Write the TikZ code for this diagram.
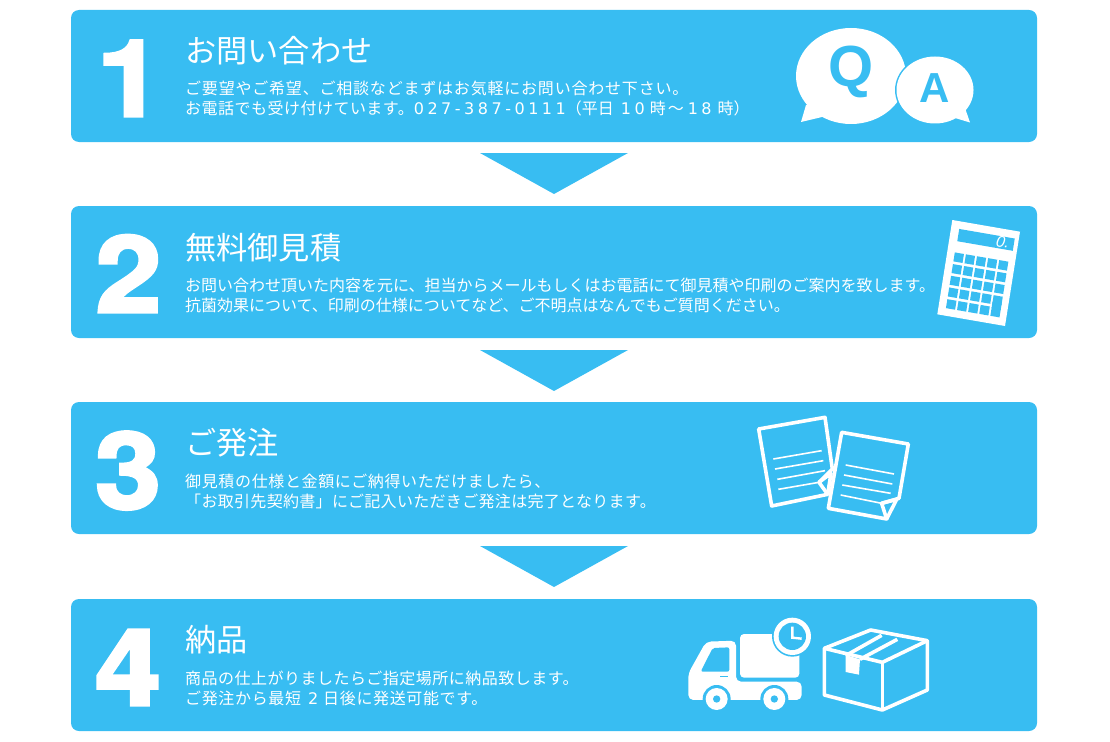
\documentclass[tikz,border=0pt]{standalone}
\usepackage{fontspec}
\setmainfont{Noto Sans CJK JP}
\newfontfamily\numfont{TeX Gyre Heros}[UprightFont=* Bold,FakeBold=3,FakeStretch=1.12]
\newfontfamily\latfont{Liberation Sans}[UprightFont=* Bold]
\newfontfamily\zerofont{Liberation Sans}[UprightFont=* Italic]
\newfontfamily\digfont{DejaVu Sans}
\definecolor{sky}{HTML}{38BDF2}
\tikzset{
  panel/.style={fill=sky,rounded corners=8pt},
  drop/.style={fill=sky},
  numeral/.style={text=white,anchor=base,inner sep=0pt,font=\numfont\fontsize{106}{106}\selectfont},
  headline/.style={text=white,anchor=base west,inner sep=0pt,font=\fontsize{31.2}{32}\selectfont},
  bodytext/.style={text=white,anchor=base west,inner sep=0pt,font=\fontsize{16}{20}\selectfont},
  icon/.style={fill=white},
  iconline/.style={draw=white,line width=3.6pt,line join=round},
  thin/.style={draw=white,line width=1.6pt},
  cutout/.style={fill=sky}
}
\newcommand{\dg}[1]{{\digfont\addfontfeature{LetterSpace=22}#1}}
\newcommand{\ls}[2]{{\addfontfeature{LetterSpace=#1}#2}}
\begin{document}
\begin{tikzpicture}[x=1pt,y=-1pt]
\useasboundingbox (0,0) rectangle (1110,741);
% panels
\fill[panel] (71,10) rectangle (1037,142);
\fill[panel] (71,206) rectangle (1037,338);
\fill[panel] (71,402) rectangle (1037,534);
\fill[panel] (71,599) rectangle (1037,731);
% arrows
\fill[drop] (480,153) -- (628,153) -- (554,194) -- cycle;
\fill[drop] (480,350) -- (628,350) -- (554,391) -- cycle;
\fill[drop] (480,546) -- (628,546) -- (554,587) -- cycle;
% numerals
\node[numeral] (n1) at (130,116) {1};
\node[numeral] (n2) at (128.5,312) {2};
\node[numeral] (n3) at (128,508.5) {3};
\node[numeral] (n4) at (128,705) {4};
% titles
\node[headline] (t1) at (185,63) {お問い合わせ};
\node[headline] (t2) at (185,259) {無料御見積};
\node[headline] (t3) at (185,454) {ご発注};
\node[headline] (t4) at (185,651) {納品};
% body
\node[bodytext] (b1a) at (185,94.5) {\ls{5}{ご要望やご希望、ご相談などまずはお気軽にお問い合わせ下さい。}};
\node[bodytext] (b1b) at (185,114.5) {\ls{3}{お電話でも受け付けています。}\dg{027-387-0111}（平日\hspace{7pt}\dg{10}\hspace{5pt}時\hspace{2pt}〜\hspace{4pt}\dg{18}\hspace{6pt}時）};
\node[bodytext] (b2a) at (185,291) {お問い合わせ頂いた内容を元に、担当からメールもしくはお電話にて御見積や印刷のご案内を致します。};
\node[bodytext] (b2b) at (185,311) {抗菌効果について、印刷の仕様についてなど、ご不明点はなんでもご質問ください。};
\node[bodytext] (b3a) at (185,487) {\ls{4}{御見積の仕様と金額にご納得いただけましたら、}};
\node[bodytext] (b3b) at (185,507) {\ls{2}{「お取引先契約書」にご記入いただきご発注は完了となります。}};
\node[bodytext] (b4a) at (185,684) {\ls{3}{商品の仕上がりましたらご指定場所に納品致します。}};
\node[bodytext] (b4b) at (185,704) {\ls{4}{ご発注から最短}\hspace{7pt}\dg{2}\hspace{5pt}\ls{4}{日後に発送可能です。}};
% Q&A
\fill[icon] (851,76) ellipse [x radius=55,y radius=48];
\fill[icon] (806,105) -- (801,122) -- (822,117) -- (830,100) -- cycle;
\fill[cutout] (935,90) ellipse [x radius=40,y radius=35];
\fill[icon] (935,90) ellipse [x radius=38.5,y radius=33.5];
\fill[icon] (965,108) -- (970,122.5) -- (955,118) -- (950,110) -- cycle;
\node[text=sky,inner sep=0pt,font=\latfont\fontsize{58}{58}\selectfont] (q) at (851,72) {Q};
\node[text=sky,inner sep=0pt,font=\latfont\fontsize{42}{42}\selectfont] (a) at (935,88) {A};
% calculator
\begin{scope}[shift={(952.3,220)},x={(67.7pt,-11.7pt)},y={(-15pt,-94.3pt)}]
  \fill[icon] (0,0) -- (1,0) -- (1,1) -- (0,1) -- cycle;
  \fill[cutout] (.12,.08) -- (.94,.08) -- (.94,.21) -- (.12,.21) -- cycle;
  \foreach \c in {0,1,2,3,4}{
    \foreach \r in {0,1,2,3,4}{
      \pgfmathsetmacro{\xa}{.11+\c*.164}
      \pgfmathsetmacro{\ya}{.33+\r*.124}
      \pgfmathsetmacro{\xb}{\xa+.135}
      \pgfmathsetmacro{\yb}{\ya+.095}
      \fill[cutout] (\xa,\ya) -- (\xb,\ya) -- (\xb,\yb) -- (\xa,\yb) -- cycle;
    }
  }
  \fill[cutout] (.766,.77) -- (.901,.77) -- (.901,.84) -- (.766,.84) -- cycle;
\end{scope}
\node[text=white,inner sep=0pt,rotate=-10,font=\zerofont\fontsize{16}{16}\selectfont] (zero) at (1003,242) {0.};
% documents
\begin{scope}[shift={(745,405)},x=0.3333pt,y=-0.3333pt]
  \draw[iconline] (222,232) -- (262,192) -- (240,37) -- (41,72) -- (80,303) -- (248,268) -- cycle;
  \draw[iconline] (222,232) -- (258,205) -- (248,268);
  \draw[thin] (85,162) -- (230,137) (90,192) -- (235,167) (97,223) -- (240,197) (100,253) -- (222,232);
  \fill[cutout] (290,80) -- (490,117) -- (462,282) -- (425,345) -- (250,312) -- cycle;
  \draw[iconline] (410,295) -- (462,280) -- (490,117) -- (290,82) -- (250,310) -- (425,342) -- cycle;
  \draw[iconline] (410,295) -- (455,283) -- (425,342);
  \draw[thin] (302,180) -- (447,207) (297,210) -- (442,237) (292,240) -- (437,265) (287,270) -- (410,295);
\end{scope}
% truck
\begin{scope}[shift={(680,610)},x=0.3333pt,y=-0.3333pt]
  \fill[icon,rounded corners=5pt] (25,270) -- (25,190) -- (78,95) -- (168,92) -- (168,215) -- (365,215) -- (365,270) -- cycle;
  \fill[cutout,rounded corners=2pt] (62,185) -- (98,114) -- (148,112) -- (148,185) -- cycle;
  \draw[draw=sky,line width=.8pt] (120,200) -- (145,200);
  \fill[icon,rounded corners=4pt] (180,72) rectangle (358,203);
  \fill[cutout] (337,79) circle (61);
  \fill[icon] (337,79) circle (56);
  \fill[cutout] (337,79) circle (41);
  \draw[draw=white,line width=2.4pt] (337,50) -- (337,83) -- (365,86);
  \foreach \wx in {110,283}{
    \fill[cutout] (\wx,267) circle (42);
    \fill[icon] (\wx,267) circle (33);
    \fill[cutout] (\wx,267) circle (11);
  }
  % box
  \draw[iconline] (433,115) -- (572,60) -- (742,92) -- (742,240) -- (607,300) -- (433,255) -- cycle;
  \draw[iconline] (433,115) -- (607,157) -- (742,92);
  \draw[iconline] (607,157) -- (607,300);
  \draw[iconline] (497,137) -- (605,76);
  \draw[iconline] (540,148) -- (652,88);
  \fill[icon] (497,135) -- (540,148) -- (537,194) -- (497,186) -- cycle;
\end{scope}
\end{tikzpicture}
\end{document}
